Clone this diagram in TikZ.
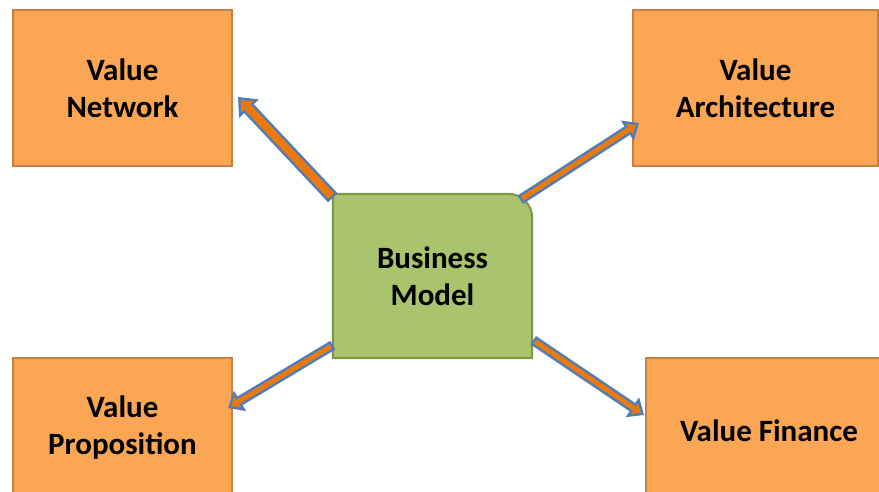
\documentclass[tikz,border=0pt]{standalone}
\usepackage{fontspec}
\setmainfont{Carlito}
\usetikzlibrary{positioning}
\usetikzlibrary{arrows.meta}
\usetikzlibrary{backgrounds}
\definecolor{boxorange}{RGB}{250,166,84}
\definecolor{boxedge}{RGB}{199,128,66}
\definecolor{bmgreen}{RGB}{169,196,108}
\definecolor{bmedge}{RGB}{124,150,68}
\definecolor{linkorange}{RGB}{236,121,12}
\definecolor{linkblue}{RGB}{79,125,185}

\begin{document}
\begin{tikzpicture}[x=1pt,y=1pt,on grid,
		font=\bfseries\fontsize{31}{37}\selectfont,
		value/.style={rectangle,draw=boxedge,fill=boxorange,line width=2pt,align=center,minimum height=156pt},
		link/.style={draw=linkblue,line width=10pt,-{Triangle[length=14pt,width=24pt,line width=0pt 0 0]},
			postaction={draw=linkorange,line width=5pt,shorten <=2.5pt,shorten >=3.8pt,-{Triangle[length=7.7pt,width=13pt,line width=0pt 0 0]}}},
		biglink/.style={draw=linkblue,line width=13pt,-{Triangle[length=16pt,width=27pt,line width=0pt 0 0]},
			postaction={draw=linkorange,line width=8pt,shorten <=2.5pt,shorten >=3.9pt,-{Triangle[length=9.6pt,width=16.3pt,line width=0pt 0 0]}}}]
		\useasboundingbox (0,0) rectangle (879,491);
		\clip (0,0) rectangle (879,491);
		
		\node[minimum width=199pt,minimum height=164pt,align=center] (bm) at (432.5,215) {Business\\Model};
		\node[value,minimum width=219pt] (vn) [above left=188pt and 310pt of bm] {Value\\Network};
		\node[value,minimum width=245pt] (va) [above right=188pt and 323pt of bm] {Value\\Architecture};
		\node[value,minimum width=219pt,minimum height=140pt] (vp) [below left=152pt and 310pt of bm] {Value\\Proposition};
		\node[value,minimum width=246pt,minimum height=146pt] (vf) [below right=155pt and 336.5pt of bm] {Value Finance};
		
		% green box, only one corner rounded
		\begin{pgfonlayer}{background}
			\draw[draw=bmedge,fill=bmgreen,line width=2pt] (bm.south west) -- (bm.north west) -- ([xshift=-24pt]bm.north east)
			arc[start angle=90,end angle=0,radius=24pt] -- (bm.south east) -- cycle;
		\end{pgfonlayer}
		
		\draw[biglink] ([yshift=-4pt]bm.north west) -- ([shift={(5pt,-9pt)}]vn.east);
		\draw[link] ([shift={(-12pt,-6pt)}]bm.north east) -- ([shift={(7pt,-35pt)}]va.west);
		\draw[link] ([yshift=13pt]bm.south west) -- ([shift={(-5pt,20pt)}]vp.east);
		\draw[link] ([shift={(1pt,18pt)}]bm.south east) -- ([shift={(-1pt,16pt)}]vf.west);
\end{tikzpicture}
\end{document}
